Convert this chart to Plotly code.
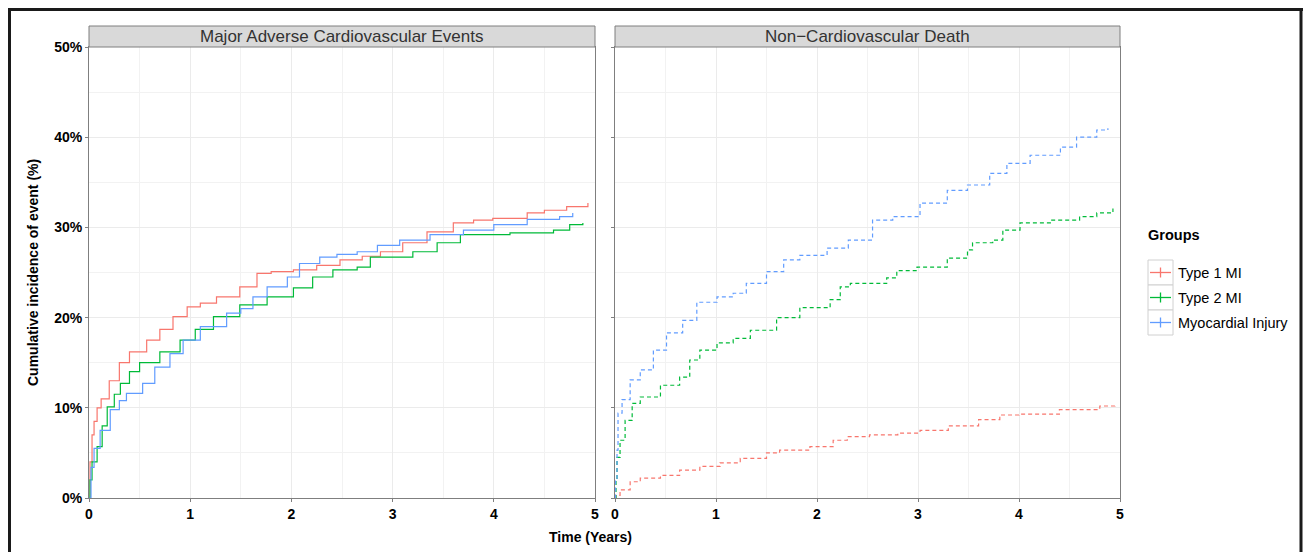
import plotly.graph_objects as go

W, H = 1303, 552

groups = ["Type 1 MI", "Type 2 MI", "Myocardial Injury"]
colors = ["#F8766D", "#00BA38", "#619CFF"]

# Major Adverse Cardiovascular Events (time in years, cumulative incidence %)
mace_t1_t = [0, 0.01, 0.03, 0.05, 0.08, 0.12, 0.2, 0.3, 0.4, 0.57, 0.7, 0.83, 0.97, 1.1, 1.26, 1.49, 1.66, 1.8, 2.02, 2.25, 2.48, 2.7, 2.88, 3.1, 3.34, 3.6, 3.8, 3.99, 4.33, 4.5, 4.72, 4.93]
mace_t1_v = [0, 4, 7, 8.5, 10, 11, 13, 15, 16.2, 17.5, 18.7, 20.1, 21.2, 21.6, 22.3, 23.4, 24.9, 25.1, 25.3, 25.8, 26.4, 26.8, 27.3, 28.3, 29.5, 30.5, 30.8, 31.0, 31.6, 31.9, 32.3, 32.7]
mace_t2_t = [0, 0.01, 0.03, 0.08, 0.13, 0.18, 0.25, 0.31, 0.4, 0.5, 0.7, 0.9, 1.05, 1.23, 1.49, 1.76, 2.02, 2.21, 2.41, 2.65, 2.78, 3.2, 3.44, 3.67, 4.16, 4.59, 4.75, 4.88]
mace_t2_v = [0, 2, 4, 5.7, 8, 10.1, 11.5, 12.7, 14, 15, 16.2, 17.5, 18.7, 20.1, 21.4, 22.3, 23.3, 24.5, 25.3, 25.6, 26.7, 27.3, 28.3, 29.2, 29.4, 29.7, 30.3, 30.5]
mace_mi_t = [0, 0.02, 0.05, 0.11, 0.21, 0.3, 0.37, 0.53, 0.65, 0.8, 0.93, 1.1, 1.36, 1.5, 1.62, 1.76, 1.96, 2.08, 2.28, 2.45, 2.65, 2.85, 3.07, 3.37, 3.7, 4.0, 4.33, 4.65, 4.78]
mace_mi_v = [0, 3.4, 5.5, 7.5, 9.8, 10.8, 11.6, 12.7, 14.5, 16.0, 17.5, 19, 20.5, 21.0, 22.3, 23.4, 24.5, 26, 26.7, 27.0, 27.3, 28.0, 28.6, 29.2, 29.7, 30.3, 30.9, 31.2, 31.6]

# Non-Cardiovascular Death
ncv_t1_t = [0, 0.01, 0.05, 0.15, 0.25, 0.45, 0.64, 0.84, 1.04, 1.24, 1.5, 1.63, 1.93, 2.16, 2.3, 2.52, 2.8, 3.02, 3.3, 3.6, 3.81, 4.0, 4.4, 4.8, 4.95]
ncv_t1_v = [0, 0.3, 0.9, 1.8, 2.2, 2.5, 3.1, 3.5, 3.9, 4.4, 5.0, 5.3, 5.7, 6.4, 6.8, 7.0, 7.2, 7.5, 8.0, 8.7, 9.2, 9.3, 9.8, 10.2, 10.5]
ncv_t2_t = [0, 0.01, 0.02, 0.05, 0.1, 0.17, 0.25, 0.45, 0.64, 0.74, 0.84, 1.01, 1.17, 1.34, 1.6, 1.83, 2.13, 2.23, 2.33, 2.69, 2.79, 2.99, 3.29, 3.49, 3.54, 3.74, 3.84, 4.01, 4.31, 4.6, 4.77, 4.93]
ncv_t2_v = [0, 2, 4.5, 6.4, 8.6, 10.5, 11.2, 12.5, 13.4, 15.3, 16.4, 17.2, 17.7, 18.6, 20, 21.1, 22, 23.4, 23.8, 24.4, 25.2, 25.6, 26.6, 27.5, 28.3, 28.6, 29.7, 30.5, 30.8, 31.2, 31.6, 32.1]
ncv_mi_t = [0, 0.005, 0.02, 0.03, 0.07, 0.15, 0.25, 0.38, 0.51, 0.67, 0.81, 1.01, 1.17, 1.3, 1.5, 1.67, 1.83, 2.1, 2.31, 2.55, 2.75, 3.02, 3.29, 3.49, 3.71, 3.88, 4.11, 4.41, 4.57, 4.77, 4.88]
ncv_mi_v = [0, 2, 5.3, 9.4, 10.9, 13.1, 14.2, 16.4, 18.3, 19.7, 21.7, 22.3, 22.7, 23.8, 25.1, 26.4, 26.9, 27.7, 28.6, 30.8, 31.2, 32.7, 34.1, 34.7, 36.0, 37.1, 38.0, 38.9, 40.0, 40.8, 41.0]

panel_titles = ["Major Adverse Cardiovascular Events", "Non\u2212Cardiovascular Death"]
x_ticks = [0, 1, 2, 3, 4, 5]
y_ticks = [0, 10, 20, 30, 40, 50]
y_ticklabels = ["0%", "10%", "20%", "30%", "40%", "50%"]


def px(x):
    return x / W


def py(y):
    return 1 - y / H


fig = go.Figure()

mace = [(mace_t1_t, mace_t1_v), (mace_t2_t, mace_t2_v), (mace_mi_t, mace_mi_v)]
ncv = [(ncv_t1_t, ncv_t1_v), (ncv_t2_t, ncv_t2_v), (ncv_mi_t, ncv_mi_v)]

for (t, v), c, g in zip(mace, colors, groups):
    fig.add_trace(go.Scatter(x=t, y=v, mode="lines", line=dict(color=c, width=1.2, shape="hv"),
                             name=g, showlegend=False, xaxis="x", yaxis="y"))
for (t, v), c, g in zip(ncv, colors, groups):
    fig.add_trace(go.Scatter(x=t, y=v, mode="lines", line=dict(color=c, width=1.2, shape="hv", dash="4px,3px"),
                             name=g, showlegend=False, xaxis="x2", yaxis="y2"))

tickfont = dict(family="Liberation Sans", size=14, color="black", weight=700)
grid = "#EBEBEB"
axis_common = dict(showgrid=True, gridcolor=grid, gridwidth=1, showline=True, linecolor="#7F7F7F",
                   linewidth=1, mirror=True, ticks="outside", ticklen=3, tickcolor="#7F7F7F",
                   tickfont=tickfont, zeroline=False)
minor_x = dict(dtick=0.5, showgrid=True, gridcolor="#F2F2F2")
minor_y = dict(dtick=5, showgrid=True, gridcolor="#F2F2F2")

ydom = [py(498), py(47)]
fig.update_layout(
    width=W, height=H, margin=dict(l=0, r=0, t=0, b=0, autoexpand=False),
    paper_bgcolor="white", plot_bgcolor="white", showlegend=False,
    font=dict(family="Liberation Sans"),
    xaxis=dict(domain=[px(89), px(595)], range=[0, 5], tickvals=x_ticks, anchor="y", minor=minor_x, **axis_common),
    yaxis=dict(domain=ydom, range=[0, 50], tickvals=y_ticks, ticktext=y_ticklabels, anchor="x", minor=minor_y,
               **axis_common),
    xaxis2=dict(domain=[px(615), px(1120)], range=[0, 5], tickvals=x_ticks, anchor="y2", minor=minor_x,
                **axis_common),
    yaxis2=dict(domain=ydom, range=[0, 50], tickvals=y_ticks, showticklabels=False, anchor="x2", minor=minor_y,
                **axis_common),
)

shapes = []
annotations = []
# outer frame (left, top, right; bottom runs off the picture)
frame = dict(color="#1A1A1A", width=3)
shapes.append(dict(type="line", xref="paper", yref="paper", x0=px(9.5), x1=px(9.5), y0=py(8), y1=0, line=frame))
shapes.append(dict(type="line", xref="paper", yref="paper", x0=px(8), x1=px(1303), y0=py(9.5), y1=py(9.5),
                   line=frame))
shapes.append(dict(type="line", xref="paper", yref="paper", x0=px(1301), x1=px(1301), y0=py(8), y1=0,
                   line=frame))
# strips
for (x0, x1), title in zip([(89, 595), (615, 1120)], panel_titles):
    shapes.append(dict(type="rect", xref="paper", yref="paper", x0=px(x0), x1=px(x1), y0=py(47), y1=py(26),
                       line=dict(color="#7F7F7F", width=1), fillcolor="#D9D9D9"))
    annotations.append(dict(x=px((x0 + x1) / 2), y=py(37), xref="paper", yref="paper", text=title,
                            showarrow=False, font=dict(family="Liberation Sans", size=17, color="#333333"),
                            xanchor="center", yanchor="middle"))

# axis titles
annotations.append(dict(x=px(33), y=py(273), xref="paper", yref="paper", text="<b>Cumulative incidence of event (%)</b>",
                        textangle=-90, showarrow=False, font=dict(family="Liberation Sans", size=14, color="black"),
                        xanchor="center", yanchor="middle"))
annotations.append(dict(x=px(590), y=py(537), xref="paper", yref="paper", text="<b>Time (Years)</b>",
                        showarrow=False, font=dict(family="Liberation Sans", size=14, color="black"),
                        xanchor="center", yanchor="middle"))

# legend (manual, ggplot style)
annotations.append(dict(x=px(1146), y=py(235), xref="paper", yref="paper", text="<b>Groups</b>",
                        showarrow=False, font=dict(family="Liberation Sans", size=14.5, color="black"),
                        xanchor="left", yanchor="middle"))
for i, (g, c) in enumerate(zip(groups, colors)):
    top = 260 + 25 * i
    cy = top + 12.5
    shapes.append(dict(type="rect", xref="paper", yref="paper", x0=px(1148), x1=px(1173), y0=py(top + 25), y1=py(top),
                       line=dict(color="#D0D0D0", width=1), fillcolor="white"))
    shapes.append(dict(type="line", xref="paper", yref="paper", x0=px(1150), x1=px(1171), y0=py(cy), y1=py(cy),
                       line=dict(color=c, width=1.3)))
    shapes.append(dict(type="line", xref="paper", yref="paper", x0=px(1160.5), x1=px(1160.5), y0=py(cy - 5),
                       y1=py(cy + 5), line=dict(color=c, width=1.3)))
    annotations.append(dict(x=px(1176), y=py(cy), xref="paper", yref="paper", text=g, showarrow=False,
                            font=dict(family="Liberation Sans", size=14.5, color="black"),
                            xanchor="left", yanchor="middle"))

fig.update_layout(shapes=shapes, annotations=annotations)
fig.write_html("out.html")
